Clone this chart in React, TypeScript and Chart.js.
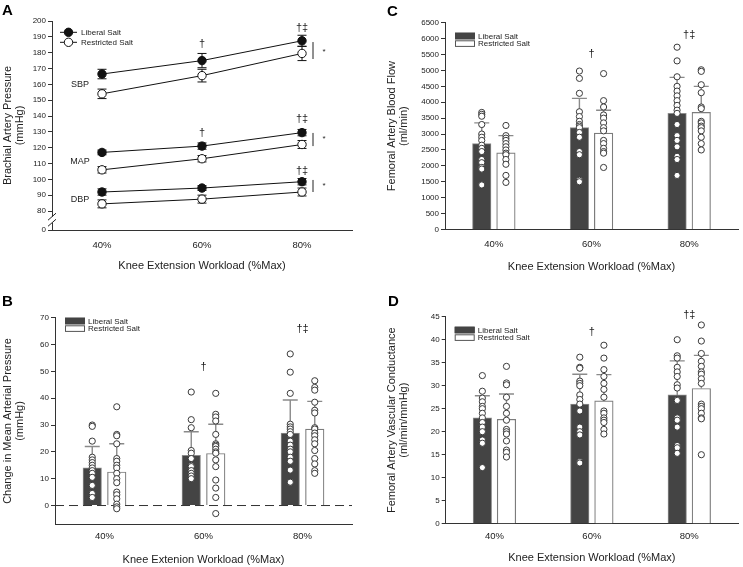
import React, { useEffect, useRef } from 'react';
import { Chart, registerables } from 'chart.js';

Chart.register(...registerables);

const FONT = "'Liberation Sans', Arial, Helvetica, sans-serif";
const INK = '#222';

// ---------- shared ----------
const workloads = ['40%', '60%', '80%'];
const groupNames = ['Liberal Salt', 'Restricted Salt'];
const xTitleA = 'Knee Extension Workload (%Max)';
const xTitleB = 'Knee Extenion Workload (%Max)';

// ---------- Panel A: brachial artery pressure (mean ± SE) ----------
const sbpLiberal = [166.5, 175, 187.5];
const sbpLiberalErr = [3, 4.5, 3.5];
const sbpRestricted = [154, 165.5, 179.5];
const sbpRestrictedErr = [3, 4, 4.5];
const mapLiberal = [117, 121, 129.5];
const mapLiberalErr = [1.5, 2, 2];
const mapRestricted = [106, 113, 122];
const mapRestrictedErr = [2, 2, 2.5];
const dbpLiberal = [92, 94.5, 98.5];
const dbpLiberalErr = [2, 1.5, 2];
const dbpRestricted = [84.5, 87.5, 92];
const dbpRestrictedErr = [2.5, 2.5, 2.5];
const pressureTicks = [0, 80, 90, 100, 110, 120, 130, 140, 150, 160, 170, 180, 190, 200];

// ---------- Panel B: change in MAP ----------
const dMapLiberalMean = [14, 18.7, 27];
const dMapLiberalSD = [8, 8.8, 12.3];
const dMapRestrictedMean = [12.5, 19.4, 28.5];
const dMapRestrictedSD = [10.5, 10.9, 10.3];
const dMapLiberalPts = [
  [30, 29.5, 24, 18, 17, 16, 15, 14, 13, 12, 10.5, 7.5, 4.5, 3],
  [42.3, 32, 29, 20.5, 19.5, 17.5, 15, 14.5, 13, 12, 11, 10],
  [56.5, 49.7, 41.8, 30.3, 29.3, 28.5, 27.5, 26.5, 24, 22.5, 21, 20, 18, 16.5, 13.2, 8.7],
];
const dMapRestrictedPts = [
  [36.8, 26.5, 26, 23, 17.5, 16.5, 15, 14, 12, 10, 8.5, 5, 4, 2.5, 0.5, -0.5, -1.2],
  [41.8, 34, 33, 31.5, 26.5, 23, 22.5, 22, 21, 20, 19.5, 17, 14.5, 9.5, 6.5, 3, -3],
  [46.5, 44, 43, 38.5, 35.5, 34.5, 29, 28.5, 27, 26, 24.5, 23, 20.5, 17.5, 15.5, 13, 12],
];
const dMapTicks = [0, 10, 20, 30, 40, 50, 60, 70];

// ---------- Panel C: femoral artery blood flow ----------
const flowLiberalMean = [2700, 3200, 3650];
const flowLiberalSD = [650, 920, 1130];
const flowRestrictedMean = [2410, 3030, 3680];
const flowRestrictedSD = [540, 720, 820];
const flowLiberalPts = [
  [3680, 3620, 3560, 3300, 3000, 2900, 2800, 2650, 2550, 2450, 2200, 2100, 1950, 1900, 1400],
  [4980, 4750, 4280, 3700, 3550, 3400, 3300, 3250, 3200, 3050, 2900, 2450, 2350, 1550, 1500],
  [5730, 5300, 4800, 4500, 4350, 4200, 4050, 3900, 3750, 3650, 3300, 2950, 2800, 2600, 2300, 2200, 1700],
];
const flowRestrictedPts = [
  [3270, 2950, 2870, 2800, 2700, 2600, 2500, 2400, 2350, 2200, 2050, 1700, 1480],
  [4900, 4050, 3850, 3600, 3500, 3350, 3200, 3100, 2800, 2700, 2550, 2450, 2400, 1950],
  [5020, 4970, 4550, 4300, 3850, 3800, 3400, 3350, 3250, 3200, 3100, 2900, 2700, 2500],
];
const flowTicks = [0, 500, 1000, 1500, 2000, 2500, 3000, 3500, 4000, 4500, 5000, 5500, 6000, 6500];

// ---------- Panel D: femoral vascular conductance ----------
const fvcLiberalMean = [23, 26, 28];
const fvcLiberalSD = [4.8, 6.5, 7.4];
const fvcRestrictedMean = [22.7, 26.7, 29.4];
const fvcRestrictedSD = [5.5, 5.7, 7.2];
const fvcLiberalPts = [
  [32.2, 28.8, 27.3, 26.5, 25.5, 25, 24, 23, 22, 21, 20, 18.2, 17.5, 12.2],
  [36.2, 34, 33.8, 31, 30.5, 30, 28, 27, 26, 24.5, 21, 20, 19.3, 13.5, 13.2],
  [40, 36.5, 36, 34, 33, 32, 30.2, 29.5, 27, 26.8, 23, 22.5, 21, 17, 16.5, 15.3],
];
const fvcRestrictedPts = [
  [34.2, 30.6, 30.2, 27.5, 25.5, 24, 22.5, 20.5, 20, 19.5, 18, 16, 15.5, 14.5],
  [38.8, 36, 33.5, 32, 30.5, 29.2, 27.5, 24.5, 24, 23, 22.5, 22, 20.5, 19.5],
  [43.2, 39.7, 37, 35.3, 34.2, 33, 32.5, 31.5, 30.5, 26, 25.5, 25, 24, 23, 22.8, 15],
];
const fvcTicks = [0, 5, 10, 15, 20, 25, 30, 35, 40, 45];

// ---------- layout ----------
type Geom = {
  left: number; top: number; w: number; h: number;
  yAxisW: number; xAxisH: number; padTop: number; padRight: number;
  yTitlePad: number; xTitlePad: number; xTickPad: number;
  letter: string; letterX: number; letterY: number;
  legDx: number; legDy: number;
};

const GEOM: Record<string, Geom> = {
  A: { left: 0, top: 0, w: 370, h: 280, yAxisW: 52, xAxisH: 50, padTop: 21, padRight: 18, yTitlePad: 2, xTitlePad: 7.4, xTickPad: 10, letter: 'A', letterX: 2, letterY: 3.5, legDx: 8, legDy: 11.3 },
  B: { left: 0, top: 280, w: 370, h: 287, yAxisW: 55, xAxisH: 42.7, padTop: 37.7, padRight: 18, yTitlePad: 2.3, xTitlePad: 0.4, xTickPad: 6.5, letter: 'B', letterX: 2, letterY: 14, legDx: 10, legDy: 0 },
  C: { left: 370, top: 0, w: 373, h: 280, yAxisW: 75, xAxisH: 50.5, padTop: 22.7, padRight: 1, yTitlePad: 15.7, xTitlePad: 6.7, xTickPad: 9.5, letter: 'C', letterX: 17, letterY: 4, legDx: 10, legDy: 10 },
  D: { left: 370, top: 280, w: 373, h: 287, yAxisW: 75.7, xAxisH: 43.3, padTop: 36.7, padRight: 1, yTitlePad: 16.3, xTitlePad: 2.7, xTickPad: 7.3, letter: 'D', letterX: 18, letterY: 14, legDx: 9, legDy: 10 },
};

type Note = { text: string; cat: number; dx: number; value: number; size: number };
type VBar = { cat: number; dx: number; from: number; to: number };

const notesA: Note[] = [
  { text: '†', cat: 1, dx: 0, value: 185.5, size: 11 },
  { text: '†‡', cat: 2, dx: 0, value: 195.6, size: 11 },
  { text: '†', cat: 1, dx: 0, value: 129.3, size: 11 },
  { text: '†‡', cat: 2, dx: 0, value: 138.1, size: 11 },
  { text: '†‡', cat: 2, dx: 0, value: 105.3, size: 11 },
  { text: '*', cat: 2, dx: 22, value: 180.4, size: 8 },
  { text: '*', cat: 2, dx: 22, value: 125.5, size: 8 },
  { text: '*', cat: 2, dx: 22, value: 95.8, size: 8 },
  { text: 'SBP', cat: 0, dx: -22, value: 160.2, size: 9 },
  { text: 'MAP', cat: 0, dx: -22, value: 111, size: 9 },
  { text: 'DBP', cat: 0, dx: -22, value: 87, size: 9 },
];
const barsA: VBar[] = [
  { cat: 2, dx: 11, from: 176, to: 186.7 },
  { cat: 2, dx: 11, from: 121, to: 129.3 },
  { cat: 2, dx: 11, from: 92, to: 99.6 },
];
const notesB: Note[] = [
  { text: '†', cat: 1, dx: 0, value: 51.7, size: 11 },
  { text: '†‡', cat: 2, dx: 0, value: 65.8, size: 11 },
];
const notesC: Note[] = [
  { text: '†', cat: 1, dx: 0, value: 5519, size: 11 },
  { text: '†‡', cat: 2, dx: 0, value: 6114, size: 11 },
];
const notesD: Note[] = [
  { text: '†', cat: 1, dx: 0, value: 41.7, size: 11 },
  { text: '†‡', cat: 2, dx: 0, value: 45.4, size: 11 },
];

// panel A uses a broken axis: 0, then 80..200
const BREAK_GAP = 12;
const toA = (v: number) => (v === 0 ? -BREAK_GAP : v - 80);
const fromA = (iv: number) => (iv === -BREAK_GAP ? 0 : iv + 80);

function drawNotes(chart: any, notes: Note[], yMap: (v: number) => number) {
  const { ctx } = chart;
  const xs = chart.scales.x;
  const ys = chart.scales.y;
  ctx.save();
  ctx.fillStyle = INK;
  ctx.textAlign = 'center';
  ctx.textBaseline = 'middle';
  notes.forEach((n) => {
    ctx.font = `${n.size}px ${FONT}`;
    ctx.fillText(n.text, xs.getPixelForValue(n.cat) + n.dx, ys.getPixelForValue(yMap(n.value)));
  });
  ctx.restore();
}

function drawLetter(chart: any, g: Geom) {
  const { ctx } = chart;
  ctx.save();
  ctx.fillStyle = '#000';
  ctx.font = `bold 15px ${FONT}`;
  ctx.textAlign = 'left';
  ctx.textBaseline = 'top';
  ctx.fillText(g.letter, g.letterX, g.letterY);
  ctx.restore();
}

function commonScales(g: Geom, yTitle: string[], xTitle: string, yMin: number, yMax: number, ticks: number[], label: (v: number) => string) {
  return {
    x: {
      type: 'category',
      offset: true,
      grid: { display: false, drawTicks: false },
      border: { display: true, color: '#333', width: 1 },
      ticks: { color: INK, font: { family: FONT, size: 9.5 }, padding: g.xTickPad, maxRotation: 0 },
      title: { display: true, text: xTitle, color: INK, font: { family: FONT, size: 11 }, padding: { top: 0, bottom: g.xTitlePad } },
      afterFit: (s: any) => { s.height = g.xAxisH; },
    },
    y: {
      type: 'linear',
      min: yMin,
      max: yMax,
      grid: { display: true, drawOnChartArea: false, drawTicks: true, tickLength: 4, color: '#333' },
      border: { display: true, color: '#333', width: 1 },
      afterBuildTicks: (s: any) => { s.ticks = ticks.map((v) => ({ value: v })); },
      ticks: { color: INK, font: { family: FONT, size: 8 }, padding: 2, callback: (v: any) => label(Number(v)) },
      title: { display: true, text: yTitle, color: INK, font: { family: FONT, size: 11, lineHeight: 1.1 }, padding: { top: g.yTitlePad, bottom: 0 } },
      afterFit: (s: any) => { s.width = g.yAxisW; },
    },
  };
}

function makeA(canvas: HTMLCanvasElement) {
  const g = GEOM.A;
  const series = [
    { name: 'SBP ' + groupNames[0], data: sbpLiberal, err: sbpLiberalErr, filled: true },
    { name: 'SBP ' + groupNames[1], data: sbpRestricted, err: sbpRestrictedErr, filled: false },
    { name: 'MAP ' + groupNames[0], data: mapLiberal, err: mapLiberalErr, filled: true },
    { name: 'MAP ' + groupNames[1], data: mapRestricted, err: mapRestrictedErr, filled: false },
    { name: 'DBP ' + groupNames[0], data: dbpLiberal, err: dbpLiberalErr, filled: true },
    { name: 'DBP ' + groupNames[1], data: dbpRestricted, err: dbpRestrictedErr, filled: false },
  ];
  const datasets = series.map((s) => ({
    type: 'line',
    label: s.name,
    data: s.data.map(toA),
    borderColor: '#111',
    borderWidth: 1,
    pointRadius: 4.2,
    pointBackgroundColor: s.filled ? '#111' : '#fff',
    pointBorderColor: '#111',
    pointBorderWidth: 1,
    tension: 0,
    fill: false,
  }));
  const plugin = {
    id: 'panelA',
    beforeDatasetsDraw(chart: any) {
      const { ctx } = chart;
      const ys = chart.scales.y;
      ctx.save();
      ctx.strokeStyle = '#111';
      ctx.lineWidth = 1;
      series.forEach((s, i) => {
        const meta = chart.getDatasetMeta(i);
        s.data.forEach((v, j) => {
          const x = meta.data[j].x;
          const t = ys.getPixelForValue(toA(v + s.err[j]));
          const b = ys.getPixelForValue(toA(v - s.err[j]));
          ctx.beginPath();
          ctx.moveTo(x, t); ctx.lineTo(x, b);
          ctx.moveTo(x - 4.5, t); ctx.lineTo(x + 4.5, t);
          ctx.moveTo(x - 4.5, b); ctx.lineTo(x + 4.5, b);
          ctx.stroke();
        });
      });
      ctx.restore();
    },
    afterDraw(chart: any) {
      const { ctx, chartArea } = chart;
      const ys = chart.scales.y;
      const xs = chart.scales.x;
      // axis break
      const yb1 = ys.getPixelForValue(-BREAK_GAP * 0.62);
      const yb2 = ys.getPixelForValue(-BREAK_GAP * 0.3);
      const ax = chartArea.left;
      ctx.save();
      ctx.fillStyle = '#fff';
      ctx.fillRect(ax - 1.5, yb2, 3, yb1 - yb2);
      ctx.strokeStyle = '#222';
      ctx.lineWidth = 1;
      ctx.beginPath();
      ctx.moveTo(ax - 4, yb1 + 3.5); ctx.lineTo(ax + 4, yb1 - 3.5);
      ctx.moveTo(ax - 4, yb2 + 3.5); ctx.lineTo(ax + 4, yb2 - 3.5);
      ctx.stroke();
      // significance bars
      barsA.forEach((b) => {
        const x = xs.getPixelForValue(b.cat) + b.dx;
        ctx.beginPath();
        ctx.moveTo(x, ys.getPixelForValue(toA(b.from)));
        ctx.lineTo(x, ys.getPixelForValue(toA(b.to)));
        ctx.stroke();
      });
      // legend
      const lx = chartArea.left + g.legDx;
      ctx.font = `8px ${FONT}`;
      ctx.textBaseline = 'middle';
      ctx.textAlign = 'left';
      groupNames.forEach((name, i) => {
        const y = chartArea.top + g.legDy + i * 10;
        ctx.strokeStyle = '#111';
        ctx.beginPath();
        ctx.moveTo(lx, y); ctx.lineTo(lx + 17, y);
        ctx.stroke();
        ctx.beginPath();
        ctx.arc(lx + 8.5, y, 4.2, 0, Math.PI * 2);
        ctx.fillStyle = i === 0 ? '#111' : '#fff';
        ctx.fill();
        ctx.stroke();
        ctx.fillStyle = INK;
        ctx.fillText(name, lx + 21, y + 0.5);
      });
      ctx.restore();
      drawNotes(chart, notesA, toA);
      drawLetter(chart, g);
    },
  };
  return new Chart(canvas, {
    type: 'line',
    data: { labels: workloads, datasets } as any,
    options: {
      responsive: false,
      animation: false,
      devicePixelRatio: 1,
      events: [],
      layout: { padding: { top: g.padTop, right: g.padRight, left: 0, bottom: 0 } },
      plugins: { legend: { display: false }, tooltip: { enabled: false } },
      scales: commonScales(g, ['Brachial Artery Pressure', '(mmHg)'], xTitleA, -BREAK_GAP, 120, pressureTicks.map(toA), (v) => String(fromA(v))) as any,
    },
    plugins: [plugin],
  } as any);
}

type BarSpec = {
  libMean: number[]; libSD: number[]; resMean: number[]; resSD: number[];
  libPts: number[][]; resPts: number[][];
  ticks: number[]; yMin: number; yMax: number;
  yTitle: string[]; xTitle: string; notes: Note[]; zeroLine: boolean;
};

// bar slot layout within a category (fraction of category width)
const CAT_PCT = 0.495;
const BAR_PX = 18.5;

function makeBarPanel(canvas: HTMLCanvasElement, g: Geom, p: BarSpec) {
  const shift = CAT_PCT / 4;
  const pts = (arr: number[][], sign: number) =>
    arr.flatMap((vals, i) => vals.map((v) => ({ x: i + sign * shift, y: v })));
  const means = (arr: number[], sign: number) => arr.map((v, i) => ({ x: i + sign * shift, y: v }));
  const sds = [p.libSD, p.resSD];
  const barCommon = { xAxisID: 'xp', yAxisID: 'y', grouped: false, barThickness: BAR_PX, order: 2 };
  const dotCommon = { xAxisID: 'xp', yAxisID: 'y', pointRadius: 3.1, pointBackgroundColor: '#fff', pointBorderColor: '#3a3a3a', pointBorderWidth: 1, order: 1 };
  const datasets = [
    { type: 'bar', label: groupNames[0], data: means(p.libMean, -1), backgroundColor: '#444444', borderColor: '#8c8c8c', borderWidth: 1, ...barCommon },
    { type: 'bar', label: groupNames[1], data: means(p.resMean, 1), backgroundColor: '#ffffff', borderColor: '#7c7c7c', borderWidth: 1.2, ...barCommon },
    { type: 'scatter', label: groupNames[0] + ' (individual)', data: pts(p.libPts, -1), ...dotCommon },
    { type: 'scatter', label: groupNames[1] + ' (individual)', data: pts(p.resPts, 1), ...dotCommon },
  ];
  const plugin = {
    id: 'barPanel',
    beforeDatasetsDraw(chart: any) {
      if (!p.zeroLine) return;
      const { ctx, chartArea } = chart;
      const y0 = chart.scales.y.getPixelForValue(0);
      ctx.save();
      ctx.strokeStyle = '#333';
      ctx.lineWidth = 1;
      ctx.setLineDash([9, 5]);
      ctx.beginPath();
      ctx.moveTo(chartArea.left, y0);
      ctx.lineTo(chartArea.right, y0);
      ctx.stroke();
      ctx.restore();
    },
    afterDatasetDraw(chart: any, args: any) {
      if (args.index > 1) return;
      const { ctx } = chart;
      const ys = chart.scales.y;
      const ds = chart.data.datasets[args.index];
      const sd = sds[args.index];
      ctx.save();
      ctx.strokeStyle = '#8a8a8a';
      ctx.lineWidth = 1.4;
      args.meta.data.forEach((el: any, j: number) => {
        const x = el.x;
        const m = ds.data[j].y;
        const yMean = ys.getPixelForValue(m);
        const yTop = ys.getPixelForValue(m + sd[j]);
        ctx.beginPath();
        ctx.moveTo(x, yMean); ctx.lineTo(x, yTop);
        ctx.moveTo(x - 7.5, yTop); ctx.lineTo(x + 7.5, yTop);
        ctx.stroke();
      });
      ctx.restore();
    },
    afterDraw(chart: any) {
      const { ctx, chartArea } = chart;
      const lx = chartArea.left + g.legDx;
      const ly = chartArea.top + g.legDy;
      ctx.save();
      ctx.font = `8px ${FONT}`;
      ctx.textBaseline = 'middle';
      ctx.textAlign = 'left';
      groupNames.forEach((name, i) => {
        const y = ly + i * 7.6;
        ctx.fillStyle = i === 0 ? '#444' : '#fff';
        ctx.fillRect(lx, y, 20, 6.6);
        ctx.strokeStyle = i === 0 ? '#444' : '#555';
        ctx.lineWidth = 1;
        ctx.strokeRect(lx + 0.5, y + 0.5, 19, 5.6);
        ctx.fillStyle = INK;
        ctx.fillText(name, lx + 23, y + 3.6);
      });
      ctx.restore();
      drawNotes(chart, p.notes, (v) => v);
      drawLetter(chart, g);
    },
  };
  const scales: any = commonScales(g, p.yTitle, p.xTitle, p.yMin, p.yMax, p.ticks, (v) => String(v));
  scales.xp = { type: 'linear', display: false, offset: false, min: -0.5, max: 2.5, grid: { offset: false } };
  return new Chart(canvas, {
    type: 'bar',
    data: { labels: workloads, datasets } as any,
    options: {
      responsive: false,
      animation: false,
      devicePixelRatio: 1,
      events: [],
      layout: { padding: { top: g.padTop, right: g.padRight, left: 0, bottom: 0 } },
      plugins: { legend: { display: false }, tooltip: { enabled: false } },
      scales,
    },
    plugins: [plugin],
  } as any);
}

export default function App() {
  const refA = useRef<HTMLCanvasElement>(null);
  const refB = useRef<HTMLCanvasElement>(null);
  const refC = useRef<HTMLCanvasElement>(null);
  const refD = useRef<HTMLCanvasElement>(null);

  useEffect(() => {
    const charts: Chart[] = [];
    if (refA.current) charts.push(makeA(refA.current));
    if (refB.current)
      charts.push(makeBarPanel(refB.current, GEOM.B, {
        libMean: dMapLiberalMean, libSD: dMapLiberalSD, resMean: dMapRestrictedMean, resSD: dMapRestrictedSD,
        libPts: dMapLiberalPts, resPts: dMapRestrictedPts, ticks: dMapTicks, yMin: -7, yMax: 70,
        yTitle: ['Change in Mean Arterial Pressure', '(mmHg)'], xTitle: xTitleB, notes: notesB, zeroLine: true,
      }));
    if (refC.current)
      charts.push(makeBarPanel(refC.current, GEOM.C, {
        libMean: flowLiberalMean, libSD: flowLiberalSD, resMean: flowRestrictedMean, resSD: flowRestrictedSD,
        libPts: flowLiberalPts, resPts: flowRestrictedPts, ticks: flowTicks, yMin: 0, yMax: 6500,
        yTitle: ['Femoral Artery Blood Flow', '(ml/min)'], xTitle: xTitleA, notes: notesC, zeroLine: false,
      }));
    if (refD.current)
      charts.push(makeBarPanel(refD.current, GEOM.D, {
        libMean: fvcLiberalMean, libSD: fvcLiberalSD, resMean: fvcRestrictedMean, resSD: fvcRestrictedSD,
        libPts: fvcLiberalPts, resPts: fvcRestrictedPts, ticks: fvcTicks, yMin: 0, yMax: 45,
        yTitle: ['Femoral Artery Vascular Conductance', '(ml/min/mmHg)'], xTitle: xTitleA, notes: notesD, zeroLine: false,
      }));
    return () => charts.forEach((c) => c.destroy());
  }, []);

  const box = (g: Geom): React.CSSProperties => ({
    position: 'absolute', left: g.left, top: g.top, width: g.w, height: g.h, display: 'block',
  });

  return (
    <div style={{ position: 'absolute', left: 0, top: 0, width: 743, height: 567, background: '#fff', overflow: 'hidden' }}>
      <canvas ref={refA} width={GEOM.A.w} height={GEOM.A.h} style={box(GEOM.A)} />
      <canvas ref={refB} width={GEOM.B.w} height={GEOM.B.h} style={box(GEOM.B)} />
      <canvas ref={refC} width={GEOM.C.w} height={GEOM.C.h} style={box(GEOM.C)} />
      <canvas ref={refD} width={GEOM.D.w} height={GEOM.D.h} style={box(GEOM.D)} />
    </div>
  );
}
